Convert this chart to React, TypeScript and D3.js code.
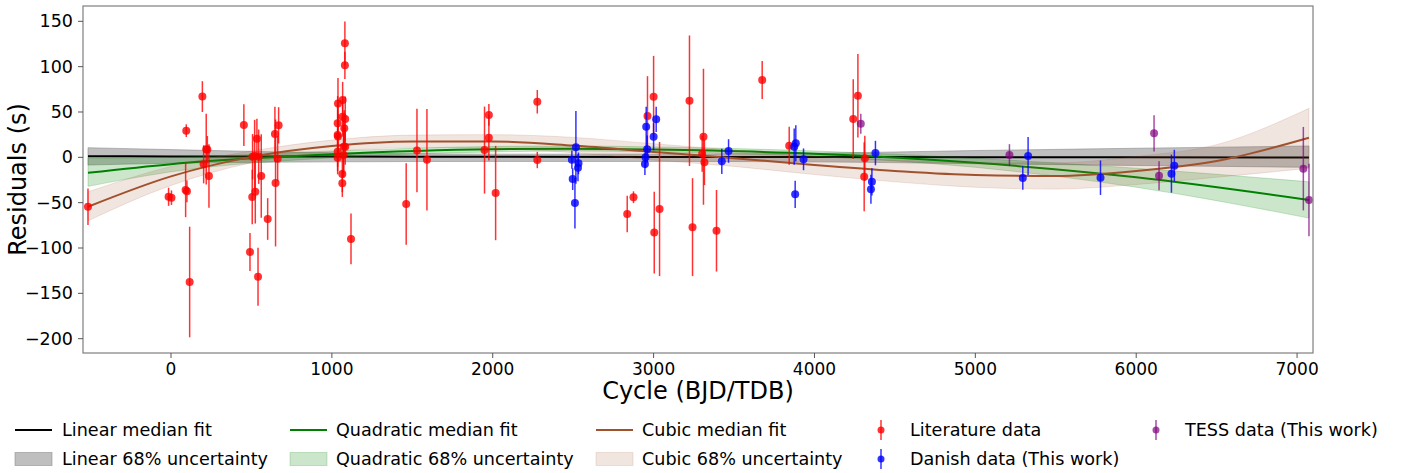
import React from 'react';
import * as d3 from 'd3';

// ---------- data ----------
const litCycle = [-516, -15, 3, 95, 91, 99, 116, 195, 203, 219, 236, 226, 453, 491, 505, 524, 534, 507, 520, 545, 541, 561, 601, 646, 650, 669, 663,
  1081, 1081, 1038, 1067, 1067, 1083, 1036, 1077, 1036, 1038, 1073, 1036, 1083, 1036, 1073, 1065, 1065, 1119,
  1462, 1529, 1591, 1949, 1976, 1976, 2018, 2277, 2277, 2836, 2875, 2962, 3000, 3004, 3037, 3223, 3242, 3310, 3302, 3316, 3391,
  3675, 3843, 4241, 4270, 4313, 4309];
const litRes = [-54.5, -43.5, -44.5, 29.4, -36, -37.5, -137.5, 67, -7.7, 9, -20.6, 8.5, 35.6, -104.4, -43.8, -38, 20.5, 0.7, 1.4, 0.7, -131.7, -20.6, -68, 25.7, -28.3, 35.3, -1.5,
  125.7, 101.5, 59.5, 63.2, 44.8, 42.2, 37.5, 32, 24.5, 23, 11.7, 6.2, 11.7, -0.4, 2.5, -18.4, -28.7, -90,
  -51.5, 7.5, -2.6, 8, 46.7, 21.6, -39.4, 61.3, -3, -62.5, -44, 45.5, 66.9, -83, -57, 62.4, -77, 22.7, 4, -5.5, -81,
  85.3, 12.8, 42.2, 68, -1.1, -21.4];
const litErr = [20, 10, 8, 7, 30, 12, 61, 17, 21, 39, 35, 15, 23, 21, 30, 35, 22, 25, 40, 30, 32, 46, 23, 30, 70, 20, 25,
  24, 15, 28, 20, 22, 25, 30, 20, 35, 25, 30, 25, 20, 15, 25, 20, 15, 28,
  45, 46, 56, 48, 12, 25, 52, 13, 9, 20, 6.5, 44, 45, 45, 74, 72, 54, 75, 20, 25, 45,
  21, 21, 44, 46, 25, 38];

const danCycle = [2492, 2517, 2497, 2511, 2533, 2530, 2954, 3016, 3000, 2960, 2950, 2946, 3424, 3466, 3884, 3874, 3880, 3932, 4379, 4357, 4351, 5295, 5328, 5778, 6219, 6237];
const danRes = [-2.6, 11, -24, -50.4, -6.6, -11.5, 33.8, 41.9, 22.7, 9, 0, -7.4, -4.4, 7, 15.4, 11.7, -40.8, -2.2, 4.7, -27, -35.3, -22.8, 1.4, -22.5, -18, -9.2];
const danErr = [10, 40, 12, 28, 12, 15, 22, 14, 15, 15, 12, 12, 14, 13, 20, 20, 15, 12, 13.5, 15, 16, 13, 21, 19, 21, 17.5];

const tessCycle = [4288, 5212, 6111, 6142, 7039, 7074];
const tessRes = [37, 2.5, 26.5, -20.3, -12.5, -47];
const tessErr = [11, 12, 20, 16, 46, 40];

const linCycle = [-516, 0, 1000, 2000, 3000, 4000, 5000, 6000, 7074];
const linMed = [1.2, 1.0, 0.8, 0.6, 0.4, 0.3, 0.2, 0.0, -0.3];
const linLo = [-8.5, -6.5, -5, -4.5, -4.5, -5, -7, -9, -11];
const linHi = [10.6, 8.5, 5, 3.5, 3.5, 4.5, 7.5, 10, 12.5];

const quadCycle = [-516, 0, 1000, 2000, 2500, 3000, 4000, 5000, 6000, 7074];
const quadMed = [-17, -7.5, 3.5, 9, 9.5, 8.5, 4, -6, -22, -47];
const quadLo = [-32, -16, -0.5, 6, 7, 6, 1, -11, -33, -67];
const quadHi = [-1, 0, 7, 12, 12.5, 11.5, 7, -1, -12, -27];

const cubCycle = [-516, 0, 500, 1000, 1500, 2000, 2500, 3000, 3500, 4000, 4500, 5000, 5500, 6000, 6500, 7074];
const cubMed = [-54.5, -21, 0.5, 12.5, 17.5, 17.5, 13, 6, -1, -8.5, -15, -19.5, -20.5, -15, -4, 21.6];
const cubLo = [-70, -31, -6, 6, 11, 10, 5, -3, -10, -19, -27, -33, -35, -30, -22, -12];
const cubHi = [-38, -10, 7, 19, 24.5, 25, 22, 15, 8, 1, -3, -6, -6, 1, 14, 54];

const xTicks = [0, 1000, 2000, 3000, 4000, 5000, 6000, 7000];
const yTicks = [-200, -150, -100, -50, 0, 50, 100, 150];

const FONT = '"DejaVu Sans", sans-serif';

export default function App() {
  const W = 1406, H = 473;
  const L = 83, R = 1313, T = 6, B = 353;
  const x = d3.scaleLinear().domain([-547, 7099]).range([L, R]);
  const y = d3.scaleLinear().domain([-215.8, 166.9]).range([B, T]);

  const mkLine = (cs: number[], vs: number[]) =>
    d3.line<number>().x((_, i) => x(cs[i])).y((v) => y(v)).curve(d3.curveMonotoneX)(vs) || '';
  const mkArea = (cs: number[], lo: number[], hi: number[]) =>
    d3.area<number>().x((_, i) => x(cs[i])).y0((_, i) => y(lo[i])).y1((_, i) => y(hi[i])).curve(d3.curveMonotoneX)(cs) || '';

  const fmt = d3.format('d');

  const series = [
    { c: litCycle, r: litRes, e: litErr, color: '#ff0000', op: 0.8 },
    { c: danCycle, r: danRes, e: danErr, color: '#0000ff', op: 0.8 },
    { c: tessCycle, r: tessRes, e: tessErr, color: '#800080', op: 0.7 },
  ];

  const legendRow1 = 430, legendRow2 = 459;
  const legendFont = 17.6;

  return (
    <svg width={W} height={H} style={{ position: 'absolute', left: 0, top: 0, background: '#fff' }} fontFamily={FONT}>
      <rect x={0} y={0} width={W} height={H} fill="#fff" />
      <defs>
        <clipPath id="plotclip"><rect x={L} y={T} width={R - L} height={B - T} /></clipPath>
      </defs>
      <g clipPath="url(#plotclip)">
        <path d={mkArea(linCycle, linLo, linHi)} fill="#808080" fillOpacity={0.5} stroke="#808080" strokeOpacity={0.5} strokeWidth={1} />
        <path d={mkLine(linCycle, linMed)} fill="none" stroke="#000" strokeWidth={2} />
        <path d={mkArea(quadCycle, quadLo, quadHi)} fill="#008000" fillOpacity={0.2} stroke="#008000" strokeOpacity={0.2} strokeWidth={1} />
        <path d={mkLine(quadCycle, quadMed)} fill="none" stroke="#008000" strokeWidth={2} />
        <path d={mkArea(cubCycle, cubLo, cubHi)} fill="#a0522d" fillOpacity={0.15} stroke="#a0522d" strokeOpacity={0.15} strokeWidth={1} />
        <path d={mkLine(cubCycle, cubMed)} fill="none" stroke="#a0522d" strokeWidth={2} />
        {series.map((s, si) => (
          <g key={si}>
            {s.c.map((c, i) => (
              <line key={'e' + i} x1={x(c)} x2={x(c)} y1={y(s.r[i] - s.e[i])} y2={y(s.r[i] + s.e[i])}
                stroke={s.color} strokeOpacity={s.op} strokeWidth={1.5} />
            ))}
            {s.c.map((c, i) => (
              <circle key={'p' + i} cx={x(c)} cy={y(s.r[i])} r={4} fill={s.color} fillOpacity={s.op} />
            ))}
          </g>
        ))}
      </g>
      {/* frame */}
      <rect x={L} y={T} width={R - L} height={B - T} fill="none" stroke="#7f7f7f" strokeWidth={1.2} />
      {/* x ticks */}
      {xTicks.map((t) => (
        <g key={'x' + t}>
          <line x1={x(t)} x2={x(t)} y1={B} y2={B + 5} stroke="#555" strokeWidth={1} />
          <text x={x(t)} y={B + 16} fontSize={17} textAnchor="middle" dominantBaseline="central" fill="#000">{fmt(t)}</text>
        </g>
      ))}
      {yTicks.map((t) => (
        <g key={'y' + t}>
          <line x1={L - 5} x2={L} y1={y(t)} y2={y(t)} stroke="#555" strokeWidth={1} />
          <text x={L - 10} y={y(t)} fontSize={17.5} textAnchor="end" dominantBaseline="central" fill="#000">{t < 0 ? '\u2212' + Math.abs(t) : String(t)}</text>
        </g>
      ))}
      <text x={(L + R) / 2} y={391} fontSize={24} textAnchor="middle" dominantBaseline="central">Cycle (BJD/TDB)</text>
      <text transform={`translate(18,${(T + B) / 2}) rotate(-90)`} fontSize={24} textAnchor="middle" dominantBaseline="central">Residuals (s)</text>

      {/* legend */}
      <g fontSize={legendFont}>
        <line x1={15} x2={52} y1={legendRow1} y2={legendRow1} stroke="#000" strokeWidth={2} />
        <text x={62} y={legendRow1} dominantBaseline="central">Linear median fit</text>
        <rect x={15} y={legendRow2 - 6.5} width={37} height={13} fill="#808080" fillOpacity={0.5} stroke="#808080" strokeOpacity={0.5} />
        <text x={62} y={legendRow2} dominantBaseline="central">Linear 68% uncertainty</text>

        <line x1={290} x2={327} y1={legendRow1} y2={legendRow1} stroke="#008000" strokeWidth={2} />
        <text x={336} y={legendRow1} dominantBaseline="central">Quadratic median fit</text>
        <rect x={290} y={legendRow2 - 6.5} width={37} height={13} fill="#008000" fillOpacity={0.2} stroke="#008000" strokeOpacity={0.2} />
        <text x={336} y={legendRow2} dominantBaseline="central">Quadratic 68% uncertainty</text>

        <line x1={596} x2={633} y1={legendRow1} y2={legendRow1} stroke="#a0522d" strokeWidth={2} />
        <text x={642} y={legendRow1} dominantBaseline="central">Cubic median fit</text>
        <rect x={596} y={legendRow2 - 6.5} width={37} height={13} fill="#a0522d" fillOpacity={0.15} stroke="#a0522d" strokeOpacity={0.15} />
        <text x={642} y={legendRow2} dominantBaseline="central">Cubic 68% uncertainty</text>

        <line x1={881} x2={881} y1={legendRow1 - 10} y2={legendRow1 + 10} stroke="#ff0000" strokeOpacity={0.8} strokeWidth={1.5} />
        <circle cx={881} cy={legendRow1} r={3.5} fill="#ff0000" fillOpacity={0.8} />
        <text x={910} y={legendRow1} dominantBaseline="central">Literature data</text>
        <line x1={881} x2={881} y1={legendRow2 - 10} y2={legendRow2 + 10} stroke="#0000ff" strokeOpacity={0.8} strokeWidth={1.5} />
        <circle cx={881} cy={legendRow2} r={3.5} fill="#0000ff" fillOpacity={0.8} />
        <text x={910} y={legendRow2} dominantBaseline="central">Danish data (This work)</text>

        <line x1={1156} x2={1156} y1={legendRow1 - 10} y2={legendRow1 + 10} stroke="#800080" strokeOpacity={0.7} strokeWidth={1.5} />
        <circle cx={1156} cy={legendRow1} r={3.5} fill="#800080" fillOpacity={0.7} />
        <text x={1185} y={legendRow1} dominantBaseline="central">TESS data (This work)</text>
      </g>
    </svg>
  );
}
